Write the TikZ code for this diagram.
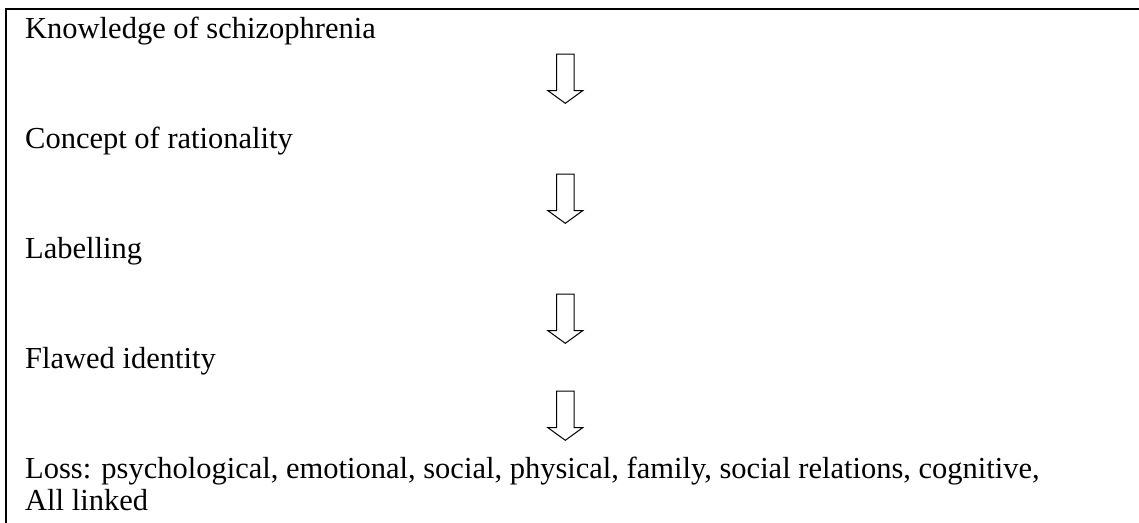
\documentclass[tikz,border=0pt]{standalone}
\usepackage{fontspec}
\setmainfont{Liberation Serif}
\begin{document}
\begin{tikzpicture}[x=1pt,y=-1pt,
  txt/.style={anchor=base west,inner sep=0pt,font=\fontsize{30.5}{32.5}\selectfont,align=left},
  frame/.style={line width=2pt},
  blockarrow/.style={draw=black,fill=white,line width=1pt,line join=miter}]
\useasboundingbox (0,0) rectangle (1139,522);
% frame (cropped at right and bottom)
\coordinate (fr-bl) at (6,530);
\coordinate (fr-tl) at (6,9);
\coordinate (fr-tr) at (1145,9);
\draw[frame] (fr-bl) -- (fr-tl) -- (fr-tr);
% texts
\node[txt] (t1) at (25,38) {Knowledge of schizophrenia};
\node[txt] (t2) at (25,148) {Concept of rationality};
\node[txt] (t3) at (25,258) {Labelling};
\node[txt] (t4) at (25,368) {Flawed identity};
\node[txt] (t5) at (25,478) {Loss: psychological, emotional, social, physical, family, social relations, cognitive,};
\node[txt] (t6) at (25,510.5) {All linked};
% block arrows
\foreach \n/\y in {a1/54,a2/174,a3/294,a4/391}{
  \coordinate (\n) at (565.3,\y);
  \draw[blockarrow] (\n) ++(-8.8,0) -- ++(0,36.7) -- ++(-8.55,0) -- ++(17.35,12.6)
     -- ++(17.35,-12.6) -- ++(-8.55,0) -- ++(0,-36.7) -- cycle;
}
\end{tikzpicture}
\end{document}
